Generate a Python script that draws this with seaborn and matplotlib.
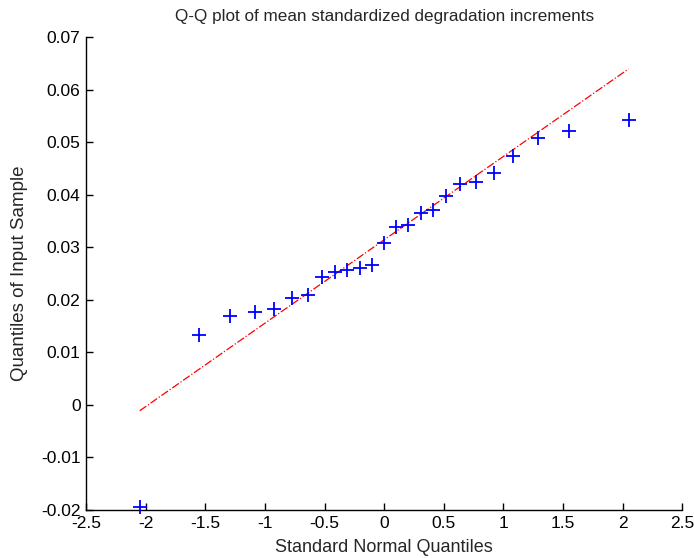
import numpy as np
import pandas as pd
import matplotlib
matplotlib.use('Agg')
import matplotlib.pyplot as plt
import seaborn as sns

# standard normal quantiles (x) and sorted sample values (y)
normal_q = [-2.05, -1.55, -1.29, -1.08, -0.92, -0.77, -0.64, -0.52, -0.41, -0.31,
            -0.20, -0.10, 0.00, 0.10, 0.20, 0.31, 0.41, 0.52, 0.64, 0.77,
            0.92, 1.08, 1.29, 1.55, 2.05]
sample_q = [-0.0195, 0.0133, 0.0170, 0.0178, 0.0182, 0.0203, 0.0210, 0.0243, 0.0254, 0.0257,
            0.0260, 0.0267, 0.0309, 0.0338, 0.0343, 0.0365, 0.0371, 0.0398, 0.0421, 0.0425,
            0.0442, 0.0474, 0.0509, 0.0522, 0.0542]

# reference line end points
line_x = [-2.05, 2.05]
line_y = [-0.0011, 0.0640]

x_ticks = [-2.5, -2, -1.5, -1, -0.5, 0, 0.5, 1, 1.5, 2, 2.5]
y_ticks = [-0.02, -0.01, 0, 0.01, 0.02, 0.03, 0.04, 0.05, 0.06, 0.07]

sns.set_style('white')
plt.rcParams['font.family'] = ['Liberation Sans', 'DejaVu Sans']

df = pd.DataFrame({'x': normal_q, 'y': sample_q})
lines = pd.DataFrame({'x': line_x, 'y': line_y})

fig = plt.figure(figsize=(6.94, 5.58), dpi=100)
ax = fig.add_axes([0.124, 0.086, 0.859, 0.847])

sns.lineplot(data=lines, x='x', y='y', color='red', linestyle='-.', linewidth=0.9, ax=ax)
sns.scatterplot(data=df, x='x', y='y', marker='+', color='blue', s=110, linewidth=1.3, ax=ax,
                zorder=3, clip_on=False)

ax.set_xlim(-2.5, 2.5)
ax.set_ylim(-0.02, 0.07)
ax.set_xticks(x_ticks)
ax.set_xticklabels(['-2.5', '-2', '-1.5', '-1', '-0.5', '0', '0.5', '1', '1.5', '2', '2.5'])
ax.set_yticks(y_ticks)
ax.set_yticklabels(['-0.02', '-0.01', '0', '0.01', '0.02', '0.03', '0.04', '0.05', '0.06', '0.07'])

for side in ['top', 'right']:
    ax.spines[side].set_visible(False)
for side in ['left', 'bottom']:
    ax.spines[side].set_color('black')
    ax.spines[side].set_linewidth(1.0)

ax.tick_params(direction='in', length=5, width=1, colors='black', labelsize=12.5,
               left=True, bottom=True, pad=4)

ax.set_xlabel('Standard Normal Quantiles', fontsize=13, labelpad=6)
ax.set_ylabel('Quantiles of Input Sample', fontsize=13.5, labelpad=9)
ax.set_title('Q-Q plot of mean standardized degradation increments', fontsize=12.3, pad=12)

fig.savefig('out.png', dpi=100)
